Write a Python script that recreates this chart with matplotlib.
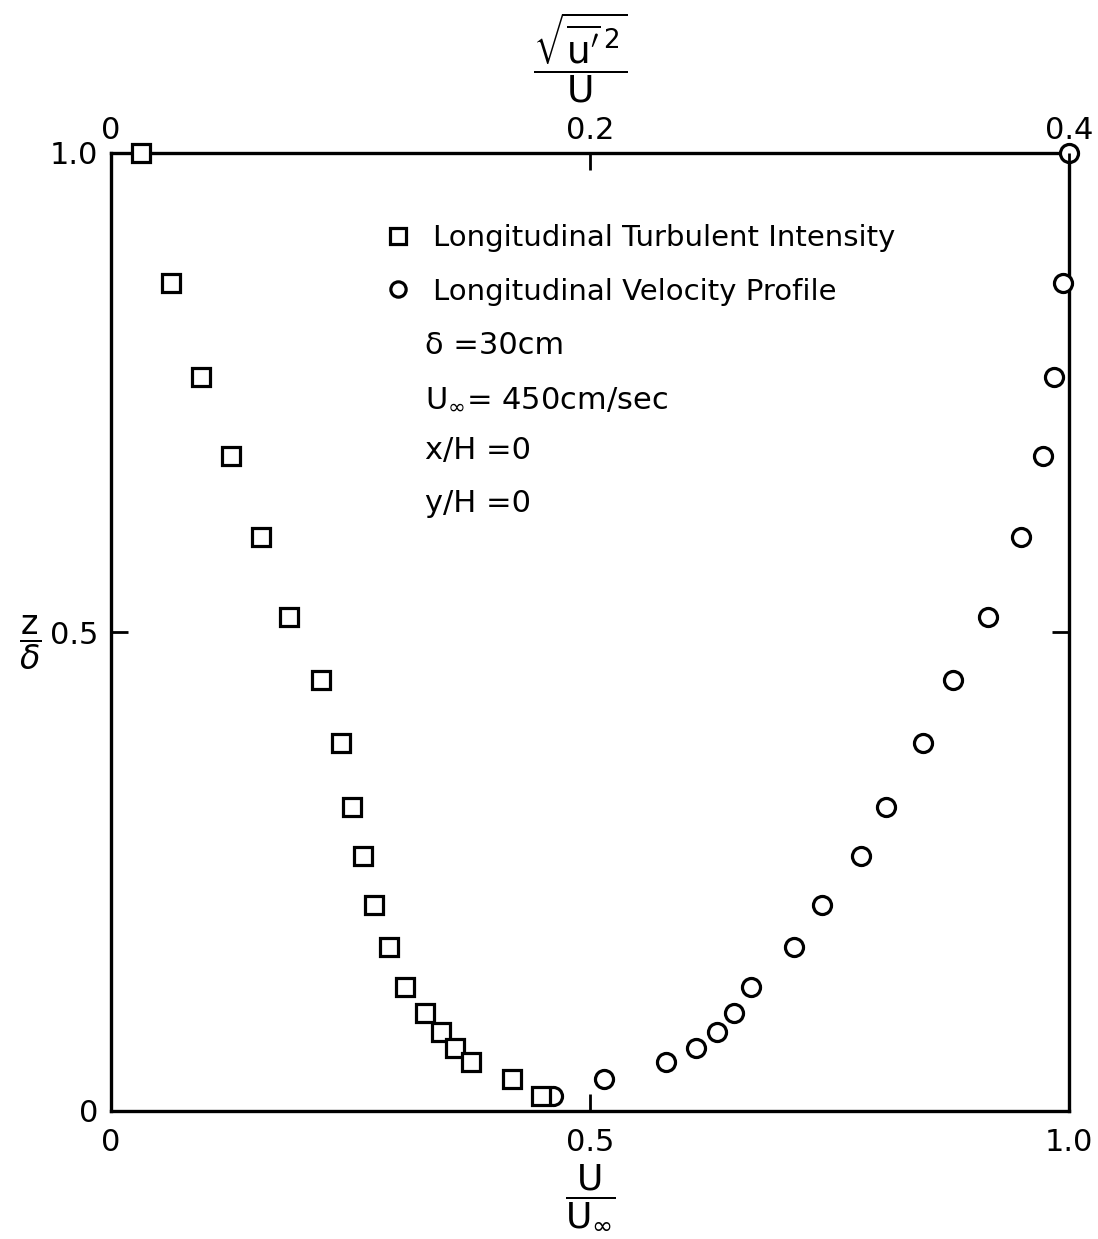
import matplotlib
matplotlib.use("Agg")
import matplotlib.pyplot as plt
from matplotlib.lines import Line2D

plt.rcParams['font.family'] = ['DejaVu Sans']
plt.rcParams['mathtext.fontset'] = 'dejavusans'

# z/delta levels (top to bottom), shared by both profiles
z_over_delta = [1.0, 0.864, 0.766, 0.684, 0.599, 0.516, 0.450, 0.384, 0.317,
                0.266, 0.215, 0.171, 0.129, 0.102, 0.082, 0.066, 0.051, 0.033, 0.016]
# longitudinal turbulent intensity sqrt(u'^2)/U (top axis, 0..0.4)
turb_intensity = [0.0127, 0.0252, 0.0378, 0.0503, 0.0628, 0.0745, 0.0878, 0.0962, 0.1008,
                  0.1054, 0.1100, 0.1162, 0.1229, 0.1312, 0.1379, 0.1437, 0.1504, 0.1675, 0.1796]
# longitudinal velocity profile U/U_inf (bottom axis, 0..1)
velocity_ratio = [1.0, 0.994, 0.984, 0.973, 0.950, 0.916, 0.879, 0.848, 0.809,
                  0.783, 0.742, 0.713, 0.668, 0.651, 0.633, 0.611, 0.580, 0.515, 0.462]

bottom_ticks = [0, 0.5, 1.0]
bottom_labels = ['0', '0.5', '1.0']
left_ticks = [0, 0.5, 1.0]
left_labels = ['0', '0.5', '1.0']
top_ticks = [0, 0.2, 0.4]
top_labels = ['0', '0.2', '0.4']

params = ['δ =30cm', r'U$_{\infty}$= 450cm/sec', 'x/H =0', 'y/H =0']

W, H = 1098, 1239
fig = plt.figure(figsize=(W / 100, H / 100), dpi=100)
L, R, T, B = 110.5, 1069, 153, 1111
ax = fig.add_axes([L / W, 1 - B / H, (R - L) / W, (B - T) / H])
ax.set_xlim(0, 1)
ax.set_ylim(0, 1)
for s in ax.spines.values():
    s.set_linewidth(2.4)

axt = ax.twiny()
axt.set_xlim(0, 0.4)
for s in axt.spines.values():
    s.set_visible(False)

fs = 22
ax.set_xticks(bottom_ticks)
ax.set_xticklabels(bottom_labels)
ax.set_yticks(left_ticks)
ax.set_yticklabels(left_labels)
ax.tick_params(axis='x', direction='in', length=12, width=2, labelsize=fs, pad=12,
               top=False, bottom=True)
ax.tick_params(axis='y', direction='in', length=12, width=2, labelsize=fs, pad=9,
               left=True, right=True, labelright=False)
axt.set_xticks(top_ticks)
axt.set_xticklabels(top_labels)
axt.tick_params(axis='x', direction='in', length=12, width=2, labelsize=fs, pad=6,
                top=True, bottom=False, labelbottom=False)

style = dict(linestyle='none', markerfacecolor='white', markeredgecolor='black',
             markeredgewidth=2.3)
axt.plot(turb_intensity, z_over_delta, marker='s', markersize=13, clip_on=False, zorder=5, **style)
ax.plot(velocity_ratio, z_over_delta, marker='o', markersize=13, clip_on=False, zorder=5, **style)

handles = [Line2D([], [], marker='s', markersize=11, **style),
           Line2D([], [], marker='o', markersize=11, **style)]
leg = ax.legend(handles, ['Longitudinal Turbulent Intensity', 'Longitudinal Velocity Profile'],
                loc='upper left', bbox_to_anchor=((386 - L) / (R - L), (B - 224) / (B - T)),
                frameon=False, fontsize=21, handlelength=0.8, handletextpad=0.8,
                labelspacing=0.88, borderpad=0, borderaxespad=0)

py = [345, 398, 451, 504]
for txt, y in zip(params, py):
    ax.text((425 - L) / (R - L), (B - y) / (B - T), txt, transform=ax.transAxes,
            fontsize=22, ha='left', va='center')

fig.text(590 / W, 1 - 1197 / H, r'$\dfrac{\mathrm{U}}{\mathrm{U}_{\infty}}$',
         fontsize=26, ha='center', va='center')
fig.text(580 / W, 1 - 58 / H, r'$\dfrac{\sqrt{\overline{\mathrm{u}^{\prime}}^{\,2}}}{\mathrm{U}}$',
         fontsize=27, ha='center', va='center')
fig.text(30 / W, 1 - 643 / H, r'$\dfrac{\mathrm{z}}{\delta}$',
         fontsize=24, ha='center', va='center')

fig.savefig('out.png', dpi=100)
